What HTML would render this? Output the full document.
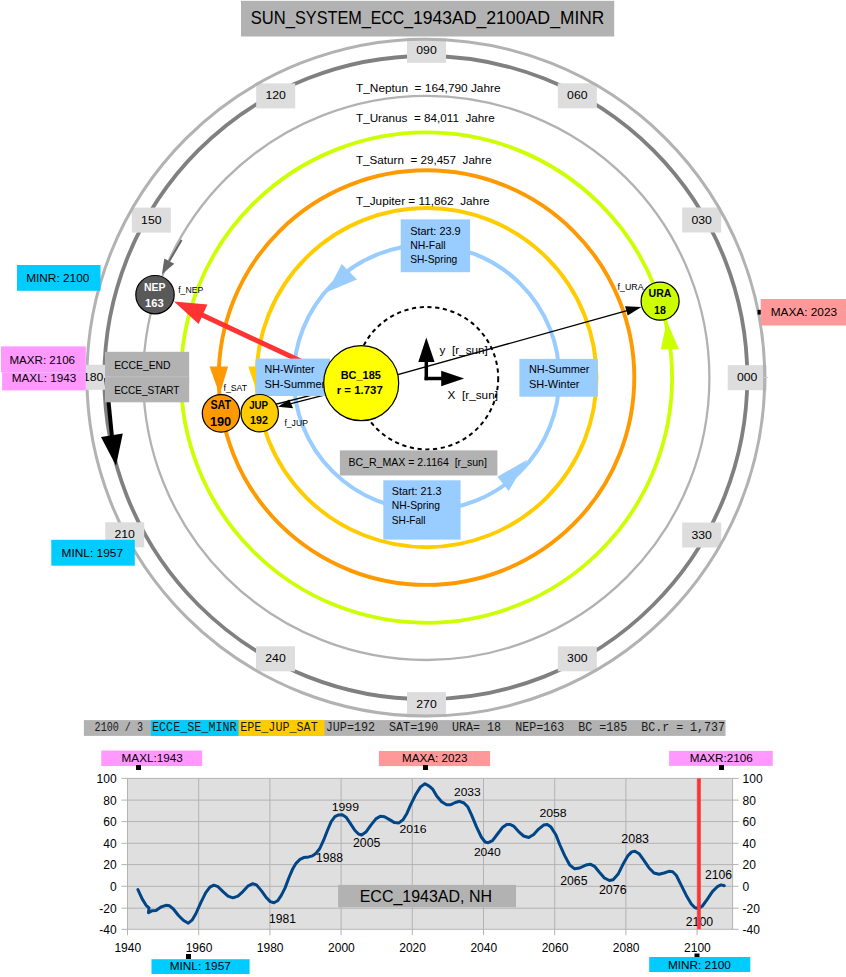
<!DOCTYPE html>
<html lang="de"><head><meta charset="utf-8"><title>SUN_SYSTEM_ECC_1943AD_2100AD_MINR</title>
<style>html,body{margin:0;padding:0;background:#fff}svg{display:block}text{white-space:pre}</style></head>
<body>
<svg width="846" height="977" viewBox="0 0 846 977" font-family='"Liberation Sans", sans-serif' font-size="10.8">
<rect width="846" height="977" fill="#fff"/>
<rect x="241.0" y="0.8" width="373.2" height="35.7" fill="#b2b2b2" />
<text x="250.8" y="23.8" font-size="17.6" textLength="44.2" lengthAdjust="spacingAndGlyphs">SUN_</text>
<text x="295.0" y="23.8" font-size="17.6" textLength="75.8" lengthAdjust="spacingAndGlyphs">SYSTEM_</text>
<text x="370.8" y="23.8" font-size="17.6" textLength="42.2" lengthAdjust="spacingAndGlyphs">ECC_</text>
<text x="413.0" y="23.8" font-size="17.6" textLength="73.2" lengthAdjust="spacingAndGlyphs">1943AD_</text>
<text x="486.2" y="23.8" font-size="17.6" textLength="73.8" lengthAdjust="spacingAndGlyphs">2100AD_</text>
<text x="560.0" y="23.8" font-size="17.6" textLength="44.2" lengthAdjust="spacingAndGlyphs">MINR</text>
<ellipse cx="425.8" cy="377.6" rx="321.5" ry="321.6" fill="none" stroke="#808080" stroke-width="3.8" />
<rect x="407.0" y="37.8" width="39.0" height="25.0" fill="#dddddd" />
<text x="416.3" y="53.8" font-size="11" textLength="20.4" lengthAdjust="spacingAndGlyphs">090</text>
<rect x="256.2" y="83.4" width="39.0" height="25.0" fill="#dddddd" />
<text x="265.5" y="99.4" font-size="11" textLength="20.4" lengthAdjust="spacingAndGlyphs">120</text>
<rect x="557.8" y="83.3" width="39.0" height="25.0" fill="#dddddd" />
<text x="567.1" y="99.3" font-size="11" textLength="20.4" lengthAdjust="spacingAndGlyphs">060</text>
<rect x="131.8" y="207.6" width="39.0" height="25.0" fill="#dddddd" />
<text x="141.1" y="223.6" font-size="11" textLength="20.4" lengthAdjust="spacingAndGlyphs">150</text>
<rect x="682.2" y="207.5" width="39.0" height="25.0" fill="#dddddd" />
<text x="691.5" y="223.5" font-size="11" textLength="20.4" lengthAdjust="spacingAndGlyphs">030</text>
<rect x="727.7" y="365.2" width="39.0" height="25.0" fill="#dddddd" />
<text x="737.0" y="381.2" font-size="11" textLength="20.4" lengthAdjust="spacingAndGlyphs">000</text>
<rect x="682.2" y="522.5" width="39.0" height="25.0" fill="#dddddd" />
<text x="691.5" y="538.5" font-size="11" textLength="20.4" lengthAdjust="spacingAndGlyphs">330</text>
<rect x="256.0" y="646.3" width="39.0" height="25.0" fill="#dddddd" />
<text x="265.3" y="662.3" font-size="11" textLength="20.4" lengthAdjust="spacingAndGlyphs">240</text>
<rect x="557.8" y="646.3" width="39.0" height="25.0" fill="#dddddd" />
<text x="567.1" y="662.3" font-size="11" textLength="20.4" lengthAdjust="spacingAndGlyphs">300</text>
<rect x="407.0" y="692.1" width="39.0" height="25.0" fill="#dddddd" />
<text x="416.3" y="708.1" font-size="11" textLength="20.4" lengthAdjust="spacingAndGlyphs">270</text>
<ellipse cx="425.8" cy="377.6" rx="338.9" ry="338.4" fill="none" stroke="#b2b2b2" stroke-width="3" />
<rect x="105.2" y="522.3" width="39.0" height="25.0" fill="#dddddd" />
<text x="114.5" y="538.3" font-size="11" textLength="20.4" lengthAdjust="spacingAndGlyphs">210</text>
<rect x="73.7" y="364.8" width="39.0" height="25.0" fill="#dddddd" />
<text x="83.0" y="380.8" font-size="11" textLength="20.4" lengthAdjust="spacingAndGlyphs">180</text>
<line x1="764.0" y1="377.4" x2="768.0" y2="377.4" stroke="#ccc" stroke-width="1" />
<ellipse cx="426.3" cy="377.9" rx="283.1" ry="282.1" fill="none" stroke="#b2b2b2" stroke-width="2.3" />
<ellipse cx="426.5" cy="377.6" rx="245.6" ry="245.2" fill="none" stroke="#ccff00" stroke-width="3.8" />
<ellipse cx="426.5" cy="377.6" rx="207.8" ry="207.3" fill="none" stroke="#ff9900" stroke-width="3.9" />
<ellipse cx="426.5" cy="377.6" rx="170.0" ry="169.6" fill="none" stroke="#ffcc00" stroke-width="3.9" />
<ellipse cx="426.5" cy="377.6" rx="132.8" ry="132.6" fill="none" stroke="#99ccff" stroke-width="4" />
<ellipse cx="427.0" cy="378.20000000000005" rx="71.2" ry="71.2" fill="none" stroke="#000" stroke-width="2" stroke-dasharray="4.2 3.6"/>
<text x="356.0" y="91.9" font-size="10.8" textLength="144.6" lengthAdjust="spacingAndGlyphs">T_Neptun  = 164,790 Jahre</text>
<text x="356.0" y="121.7" font-size="10.8" textLength="138.7" lengthAdjust="spacingAndGlyphs">T_Uranus  = 84,011  Jahre</text>
<text x="356.0" y="163.6" font-size="10.8" textLength="135.7" lengthAdjust="spacingAndGlyphs">T_Saturn  = 29,457  Jahre</text>
<text x="356.0" y="204.7" font-size="10.8" textLength="133.6" lengthAdjust="spacingAndGlyphs">T_Jupiter = 11,862  Jahre</text>
<line x1="181.6" y1="240.0" x2="169.3" y2="261.0" stroke="#666" stroke-width="2" />
<polygon points="161.9,274.3 164.3,258.4 174.3,263.7" fill="#666" />
<polygon points="209.6,366.5 228.1,366.5 219.6,394.8" fill="#ff9900" />
<polygon points="248.3,366.5 266.8,366.5 258.0,394.8" fill="#ffcc00" />
<polygon points="666.7,321.0 660.9,349.3 679.0,349.3" fill="#ccff00" />
<polygon points="327.1,292.0 341.7,263.9 356.9,279.6" fill="#99ccff" />
<polygon points="527.2,459.8 497.4,476.8 508.7,491.0" fill="#99ccff" />
<line x1="106.2" y1="378.0" x2="111.9" y2="436.0" stroke="#000" stroke-width="4" />
<polygon points="116.0,465.7 101.0,437.1 122.8,433.4" fill="#000" />
<line x1="361.2" y1="384.9" x2="627.0" y2="310.6" stroke="#000" stroke-width="1.4" />
<polygon points="641.4,307.1 625.1,306.2 627.7,315.5" fill="#000" />
<line x1="361.2" y1="382.6" x2="250.0" y2="410.8" stroke="#000" stroke-width="1.4" />
<polygon points="240.0,413.3 252.4,405.2 254.8,414.5" fill="#000" />
<line x1="361.2" y1="385.6" x2="291.0" y2="403.6" stroke="#000" stroke-width="1.4" />
<polygon points="277.9,406.7 289.2,399.5 293.1,408.3" fill="#000" />
<line x1="350.0" y1="384.1" x2="200.0" y2="314.1" stroke="#ff3333" stroke-width="5" />
<polygon points="174.0,301.5 207.4,304.5 198.6,324.0" fill="#ff3333" />
<line x1="426.3" y1="380.2" x2="426.3" y2="360.0" stroke="#000" stroke-width="3.5" />
<line x1="424.6" y1="378.5" x2="443.0" y2="378.5" stroke="#000" stroke-width="3.5" />
<polygon points="426.3,337.6 418.3,361.9 434.6,361.9" fill="#000" />
<polygon points="464.1,378.5 441.2,370.7 441.2,386.3" fill="#000" />
<text x="439.6" y="353.6" font-size="10.8" textLength="48.2" lengthAdjust="spacingAndGlyphs">y  [r_sun]</text>
<text x="447.6" y="398.6" font-size="10.8" textLength="50.4" lengthAdjust="spacingAndGlyphs">X  [r_sun]</text>
<rect x="400.7" y="219.4" width="69.4" height="52.8" fill="#99ccff" />
<text x="410.2" y="234.7" font-size="10.8" textLength="50.5" lengthAdjust="spacingAndGlyphs">Start: 23.9</text>
<text x="410.2" y="248.9" font-size="10.8" textLength="35.4" lengthAdjust="spacingAndGlyphs">NH-Fall</text>
<text x="410.2" y="263.3" font-size="10.8" textLength="47.1" lengthAdjust="spacingAndGlyphs">SH-Spring</text>
<rect x="519.4" y="358.9" width="78.3" height="37.8" fill="#99ccff" />
<text x="529.0" y="373.4" font-size="10.8" textLength="60.5" lengthAdjust="spacingAndGlyphs">NH-Summer</text>
<text x="529.0" y="387.6" font-size="10.8" textLength="50.5" lengthAdjust="spacingAndGlyphs">SH-Winter</text>
<rect x="255.9" y="358.6" width="74.1" height="37.4" fill="#99ccff" />
<text x="264.5" y="373.2" font-size="10.8" textLength="50.0" lengthAdjust="spacingAndGlyphs">NH-Winter</text>
<text x="264.5" y="387.7" font-size="10.8" textLength="60.8" lengthAdjust="spacingAndGlyphs">SH-Summer</text>
<rect x="339.9" y="450.4" width="157.5" height="25.1" fill="#b2b2b2" />
<text x="348.4" y="466.0" font-size="10.8" textLength="138.5" lengthAdjust="spacingAndGlyphs">BC_R_MAX = 2.1164  [r_sun]</text>
<rect x="383.3" y="480.3" width="77.3" height="59.3" fill="#99ccff" />
<text x="391.8" y="494.7" font-size="10.8" textLength="49.7" lengthAdjust="spacingAndGlyphs">Start: 21.3</text>
<text x="391.8" y="509.4" font-size="10.8" textLength="48.2" lengthAdjust="spacingAndGlyphs">NH-Spring</text>
<text x="391.8" y="524.2" font-size="10.8" textLength="33.8" lengthAdjust="spacingAndGlyphs">SH-Fall</text>
<circle cx="361.2" cy="383.2" r="37.5" fill="#ffff00" stroke="#000" stroke-width="1.2"/>
<text x="340.7" y="378.5" font-size="10.2" font-weight="bold" textLength="40.2" lengthAdjust="spacingAndGlyphs">BC_185</text>
<text x="336.7" y="394.3" font-size="10.2" font-weight="bold" textLength="46.1" lengthAdjust="spacingAndGlyphs">r = 1.737</text>
<circle cx="155" cy="294.7" r="19.2" fill="#595959" stroke="#000" stroke-width="1.2"/>
<text x="144.0" y="290.9" font-size="10.8" fill="#fff" font-weight="bold" textLength="21.5" lengthAdjust="spacingAndGlyphs">NEP</text>
<text x="145.1" y="306.8" font-size="10.8" fill="#fff" font-weight="bold" textLength="18.6" lengthAdjust="spacingAndGlyphs">163</text>
<circle cx="221.0" cy="413.4" r="18.7" fill="#ff9900" stroke="#000" stroke-width="1.2"/>
<text x="210.4" y="408.5" font-size="11.9" font-weight="bold" textLength="20.8" lengthAdjust="spacingAndGlyphs">SAT</text>
<text x="209.9" y="426.4" font-size="11.9" font-weight="bold" textLength="21.3" lengthAdjust="spacingAndGlyphs">190</text>
<circle cx="259.7" cy="413.2" r="18.7" fill="#ffcc00" stroke="#000" stroke-width="1.2"/>
<text x="249.2" y="408.5" font-size="10" font-weight="bold" textLength="18.9" lengthAdjust="spacingAndGlyphs">JUP</text>
<text x="250.1" y="424.3" font-size="10" font-weight="bold" textLength="17.8" lengthAdjust="spacingAndGlyphs">192</text>
<circle cx="660.1" cy="301.2" r="19.0" fill="#ccff00" stroke="#000" stroke-width="1.2"/>
<text x="648.5" y="296.8" font-size="10.8" font-weight="bold" textLength="22.9" lengthAdjust="spacingAndGlyphs">URA</text>
<text x="654.0" y="313.8" font-size="10.8" font-weight="bold" textLength="11.8" lengthAdjust="spacingAndGlyphs">18</text>
<text x="178.2" y="293.2" font-size="8.4" textLength="25.1" lengthAdjust="spacingAndGlyphs">f_NEP</text>
<text x="223.5" y="391.4" font-size="8.4" textLength="23.6" lengthAdjust="spacingAndGlyphs">f_SAT</text>
<text x="284.4" y="425.8" font-size="8.4" textLength="23.5" lengthAdjust="spacingAndGlyphs">f_JUP</text>
<text x="617.6" y="289.8" font-size="8.4" textLength="26.0" lengthAdjust="spacingAndGlyphs">f_URA</text>
<rect x="17.0" y="265.0" width="83.5" height="25.8" fill="#00ccff" />
<text x="26.2" y="282.0" font-size="11.7" textLength="63.1" lengthAdjust="spacingAndGlyphs">MINR: 2100</text>
<rect x="1.0" y="346.4" width="84.8" height="26.1" fill="#ff99ff" />
<rect x="2.1" y="372.5" width="83.7" height="17.9" fill="#ff99ff" />
<text x="9.5" y="363.8" font-size="11.7" textLength="65.5" lengthAdjust="spacingAndGlyphs">MAXR: 2106</text>
<text x="11.8" y="381.8" font-size="11.7" textLength="64.5" lengthAdjust="spacingAndGlyphs">MAXL: 1943</text>
<rect x="105.0" y="351.8" width="84.2" height="50.5" fill="#b2b2b2" />
<line x1="105.0" y1="376.8" x2="189.2" y2="376.8" stroke="#c4c4c4" stroke-width="0.8" />
<text x="114.2" y="368.8" font-size="11.2" textLength="56.3" lengthAdjust="spacingAndGlyphs">ECCE_END</text>
<text x="114.2" y="393.6" font-size="11.2" textLength="65.3" lengthAdjust="spacingAndGlyphs">ECCE_START</text>
<rect x="51.3" y="539.8" width="83.5" height="25.9" fill="#00ccff" />
<text x="61.6" y="556.5" font-size="11.7" textLength="61.4" lengthAdjust="spacingAndGlyphs">MINL: 1957</text>
<rect x="757.6" y="309.8" width="3.4" height="4.8" fill="#000" />
<rect x="760.7" y="299.0" width="85.3" height="26.5" fill="#ff9999" />
<text x="770.7" y="315.9" font-size="11.7" textLength="66.4" lengthAdjust="spacingAndGlyphs">MAXA: 2023</text>
<rect x="83.9" y="720.1" width="641.6" height="15.8" fill="#b2b2b2" />
<rect x="150.9" y="720.1" width="87.8" height="15.8" fill="#00ccff" />
<rect x="238.7" y="720.1" width="85.7" height="15.8" fill="#ffcc00" />
<text x="94.6" y="731.0" font-size="12.6" fill="#1a1a1a" font-family='"Liberation Mono", monospace' textLength="48.4" lengthAdjust="spacingAndGlyphs">2100 / 3</text>
<text x="152.0" y="731.0" font-size="12.6" fill="#1a1a1a" font-family='"Liberation Mono", monospace' textLength="84.6" lengthAdjust="spacingAndGlyphs">ECCE_SE_MINR</text>
<text x="240.2" y="731.0" font-size="12.6" fill="#1a1a1a" font-family='"Liberation Mono", monospace' textLength="77.5" lengthAdjust="spacingAndGlyphs">EPE_JUP_SAT</text>
<text x="325.8" y="731.0" font-size="12.6" fill="#1a1a1a" font-family='"Liberation Mono", monospace' textLength="49.2" lengthAdjust="spacingAndGlyphs">JUP=192</text>
<text x="389.0" y="731.0" font-size="12.6" fill="#1a1a1a" font-family='"Liberation Mono", monospace' textLength="49.3" lengthAdjust="spacingAndGlyphs">SAT=190</text>
<text x="452.0" y="731.0" font-size="12.6" fill="#1a1a1a" font-family='"Liberation Mono", monospace' textLength="49.0" lengthAdjust="spacingAndGlyphs">URA= 18</text>
<text x="515.2" y="731.0" font-size="12.6" fill="#1a1a1a" font-family='"Liberation Mono", monospace' textLength="49.1" lengthAdjust="spacingAndGlyphs">NEP=163</text>
<text x="578.3" y="731.0" font-size="12.6" fill="#1a1a1a" font-family='"Liberation Mono", monospace' textLength="49.0" lengthAdjust="spacingAndGlyphs">BC =185</text>
<text x="641.3" y="731.0" font-size="12.6" fill="#1a1a1a" font-family='"Liberation Mono", monospace' textLength="83.7" lengthAdjust="spacingAndGlyphs">BC.r = 1,737</text>
<rect x="127.5" y="778.4" width="605.1" height="150.8" fill="#dfdfdf" />
<line x1="121.5" y1="929.3" x2="738.6" y2="929.3" stroke="#b3b3b3" stroke-width="1" />
<line x1="121.5" y1="908.2" x2="738.6" y2="908.2" stroke="#b3b3b3" stroke-width="1" />
<line x1="121.5" y1="886.3" x2="738.6" y2="886.3" stroke="#b3b3b3" stroke-width="1" />
<line x1="121.5" y1="864.6" x2="738.6" y2="864.6" stroke="#b3b3b3" stroke-width="1" />
<line x1="121.5" y1="843.3" x2="738.6" y2="843.3" stroke="#b3b3b3" stroke-width="1" />
<line x1="121.5" y1="821.6" x2="738.6" y2="821.6" stroke="#b3b3b3" stroke-width="1" />
<line x1="121.5" y1="800.1" x2="738.6" y2="800.1" stroke="#b3b3b3" stroke-width="1" />
<line x1="121.5" y1="778.4" x2="738.6" y2="778.4" stroke="#b3b3b3" stroke-width="1" />
<line x1="127.5" y1="778.4" x2="127.5" y2="935.2" stroke="#b3b3b3" stroke-width="1" />
<line x1="198.7" y1="778.4" x2="198.7" y2="935.2" stroke="#b3b3b3" stroke-width="1" />
<line x1="269.9" y1="778.4" x2="269.9" y2="935.2" stroke="#b3b3b3" stroke-width="1" />
<line x1="341.1" y1="778.4" x2="341.1" y2="935.2" stroke="#b3b3b3" stroke-width="1" />
<line x1="412.3" y1="778.4" x2="412.3" y2="935.2" stroke="#b3b3b3" stroke-width="1" />
<line x1="483.5" y1="778.4" x2="483.5" y2="935.2" stroke="#b3b3b3" stroke-width="1" />
<line x1="554.7" y1="778.4" x2="554.7" y2="935.2" stroke="#b3b3b3" stroke-width="1" />
<line x1="625.9" y1="778.4" x2="625.9" y2="935.2" stroke="#b3b3b3" stroke-width="1" />
<line x1="697.1" y1="778.4" x2="697.1" y2="935.2" stroke="#b3b3b3" stroke-width="1" />
<line x1="732.6" y1="778.4" x2="732.6" y2="929.2" stroke="#b3b3b3" stroke-width="1" />
<text x="116.6" y="933.7" font-size="12" text-anchor="end">-40</text>
<text x="742.6" y="933.7" font-size="12">-40</text>
<text x="116.6" y="912.6" font-size="12" text-anchor="end">-20</text>
<text x="742.6" y="912.6" font-size="12">-20</text>
<text x="116.6" y="890.7" font-size="12" text-anchor="end">0</text>
<text x="742.6" y="890.7" font-size="12">0</text>
<text x="116.6" y="869.0" font-size="12" text-anchor="end">20</text>
<text x="742.6" y="869.0" font-size="12">20</text>
<text x="116.6" y="847.7" font-size="12" text-anchor="end">40</text>
<text x="742.6" y="847.7" font-size="12">40</text>
<text x="116.6" y="826.0" font-size="12" text-anchor="end">60</text>
<text x="742.6" y="826.0" font-size="12">60</text>
<text x="116.6" y="804.5" font-size="12" text-anchor="end">80</text>
<text x="742.6" y="804.5" font-size="12">80</text>
<text x="116.6" y="782.8" font-size="12" text-anchor="end">100</text>
<text x="742.6" y="782.8" font-size="12">100</text>
<text x="127.8" y="951.9" font-size="12" text-anchor="middle">1940</text>
<text x="199.0" y="951.9" font-size="12" text-anchor="middle">1960</text>
<text x="270.2" y="951.9" font-size="12" text-anchor="middle">1980</text>
<text x="341.4" y="951.9" font-size="12" text-anchor="middle">2000</text>
<text x="412.6" y="951.9" font-size="12" text-anchor="middle">2020</text>
<text x="483.8" y="951.9" font-size="12" text-anchor="middle">2040</text>
<text x="555.0" y="951.9" font-size="12" text-anchor="middle">2060</text>
<text x="626.2" y="951.9" font-size="12" text-anchor="middle">2080</text>
<text x="697.4" y="951.9" font-size="12" text-anchor="middle">2100</text>
<path d="M137.9 889.6 L142.3 899.1 L146.1 905.3 L149.0 907.8 L148.5 912.7 L152.3 910.7 L156.0 910.5 L161.0 907.0 L165.9 905.3 L169.6 905.8 L173.4 909.0 L178.3 915.2 L183.3 920.2 L188.3 923.2 L192.0 920.2 L195.7 914.0 L200.7 902.8 L205.6 892.9 L209.9 887.2 L213.8 885.2 L218.0 886.7 L223.0 891.6 L228.0 896.1 L232.9 897.8 L237.9 896.1 L242.9 891.6 L247.8 886.2 L252.8 883.7 L256.5 884.9 L261.5 890.9 L266.5 897.8 L270.2 901.6 L273.9 902.8 L277.6 900.8 L281.3 895.4 L285.1 887.9 L288.8 878.0 L292.5 869.3 L296.2 863.1 L300.0 859.4 L303.7 857.6 L308.7 856.9 L312.4 855.9 L316.1 853.2 L319.8 848.5 L323.6 840.2 L327.4 830.5 L331.2 821.6 L334.9 816.7 L338.6 814.9 L342.3 814.7 L346.1 817.2 L349.8 822.6 L354.8 830.3 L358.5 834.0 L361.7 835.0 L365.9 832.1 L370.9 825.1 L375.9 818.9 L380.3 816.2 L384.5 816.7 L389.5 819.6 L394.5 822.6 L398.9 822.9 L403.2 819.6 L406.9 813.4 L410.6 804.8 L415.6 794.8 L420.5 786.9 L425.0 783.7 L429.2 786.1 L432.9 789.4 L436.7 796.1 L441.6 801.8 L446.6 804.8 L450.3 804.8 L455.3 802.5 L459.5 801.3 L464.0 803.0 L467.7 806.7 L471.4 814.7 L476.4 826.6 L481.3 837.0 L485.1 842.0 L488.3 842.7 L492.5 840.7 L497.5 834.0 L502.4 827.6 L506.7 824.6 L509.9 824.4 L513.6 826.1 L518.6 831.6 L523.6 836.0 L528.7 837.5 L533.7 834.5 L538.6 829.1 L543.6 825.1 L547.3 824.6 L551.0 827.1 L556.0 835.0 L559.7 844.5 L564.7 855.6 L569.6 864.8 L574.6 868.8 L579.6 868.0 L585.8 865.1 L590.7 864.3 L594.5 866.3 L599.4 872.3 L604.4 878.0 L609.4 880.5 L613.1 879.7 L618.0 874.3 L623.0 864.3 L628.0 855.6 L631.7 851.9 L634.9 851.2 L639.1 853.7 L644.1 860.6 L649.1 868.0 L654.0 873.0 L659.0 874.3 L664.0 873.0 L668.9 871.3 L672.7 871.8 L676.4 875.5 L681.3 885.4 L686.3 895.4 L691.3 904.0 L695.0 907.8 L698.7 908.5 L702.4 906.0 L707.4 899.1 L712.4 891.6 L717.3 886.7 L721.1 884.9 L724.3 885.7" fill="none" stroke="#004586" stroke-width="3" stroke-linejoin="round" stroke-linecap="round"/>
<rect x="338.1" y="884.9" width="177.9" height="22.3" fill="#b2b2b2" />
<text x="359.7" y="901.5" font-size="15.6" textLength="132.3" lengthAdjust="spacingAndGlyphs">ECC_1943AD, NH</text>
<text x="269.0" y="923.4" font-size="12" textLength="26.9" lengthAdjust="spacingAndGlyphs">1981</text>
<text x="316.0" y="862.4" font-size="12" textLength="27.0" lengthAdjust="spacingAndGlyphs">1988</text>
<text x="331.7" y="811.4" font-size="11.5" textLength="27.3" lengthAdjust="spacingAndGlyphs">1999</text>
<text x="353.0" y="847.4" font-size="12" textLength="27.3" lengthAdjust="spacingAndGlyphs">2005</text>
<text x="399.4" y="833.3" font-size="11.5" textLength="27.3" lengthAdjust="spacingAndGlyphs">2016</text>
<text x="454.0" y="796.0" font-size="11.5" textLength="26.6" lengthAdjust="spacingAndGlyphs">2033</text>
<text x="473.9" y="855.6" font-size="11.5" textLength="26.8" lengthAdjust="spacingAndGlyphs">2040</text>
<text x="539.4" y="817.2" font-size="11.5" textLength="27.3" lengthAdjust="spacingAndGlyphs">2058</text>
<text x="560.2" y="885.4" font-size="12" textLength="27.3" lengthAdjust="spacingAndGlyphs">2065</text>
<text x="598.9" y="894.1" font-size="12" textLength="27.8" lengthAdjust="spacingAndGlyphs">2076</text>
<text x="621.3" y="842.5" font-size="12" textLength="27.7" lengthAdjust="spacingAndGlyphs">2083</text>
<text x="704.9" y="879.2" font-size="12" textLength="27.1" lengthAdjust="spacingAndGlyphs">2106</text>
<text x="685.8" y="925.6" font-size="12" textLength="27.3" lengthAdjust="spacingAndGlyphs">2100</text>
<line x1="699.0" y1="778.4" x2="699.0" y2="929.2" stroke="#ff3333" stroke-width="3.6" />
<rect x="101.3" y="750.5" width="100.9" height="15.5" fill="#ff99ff" />
<text x="121.6" y="761.6" font-size="11.2" textLength="61.1" lengthAdjust="spacingAndGlyphs">MAXL:1943</text>
<rect x="136.0" y="765.0" width="5.0" height="5.0" fill="#000" />
<rect x="378.9" y="751.0" width="111.2" height="15.1" fill="#ff9999" />
<text x="402.0" y="761.7" font-size="11.2" textLength="65.4" lengthAdjust="spacingAndGlyphs">MAXA: 2023</text>
<rect x="423.0" y="765.0" width="5.0" height="5.0" fill="#000" />
<rect x="669.1" y="750.9" width="103.7" height="15.0" fill="#ff99ff" />
<text x="689.7" y="761.8" font-size="11.2" textLength="63.0" lengthAdjust="spacingAndGlyphs">MAXR:2106</text>
<rect x="719.0" y="765.0" width="5.0" height="5.0" fill="#000" />
<rect x="186.0" y="954.0" width="5.0" height="5.0" fill="#000" />
<rect x="151.5" y="959.2" width="98.1" height="14.8" fill="#00ccff" />
<text x="169.7" y="970.2" font-size="11.2" textLength="61.1" lengthAdjust="spacingAndGlyphs">MINL: 1957</text>
<rect x="694.5" y="953.5" width="5.0" height="5.0" fill="#000" />
<rect x="649.2" y="957.0" width="101.1" height="15.0" fill="#00ccff" />
<text x="667.9" y="968.6" font-size="11.2" textLength="63.0" lengthAdjust="spacingAndGlyphs">MINR: 2100</text>
</svg>
</body></html>
